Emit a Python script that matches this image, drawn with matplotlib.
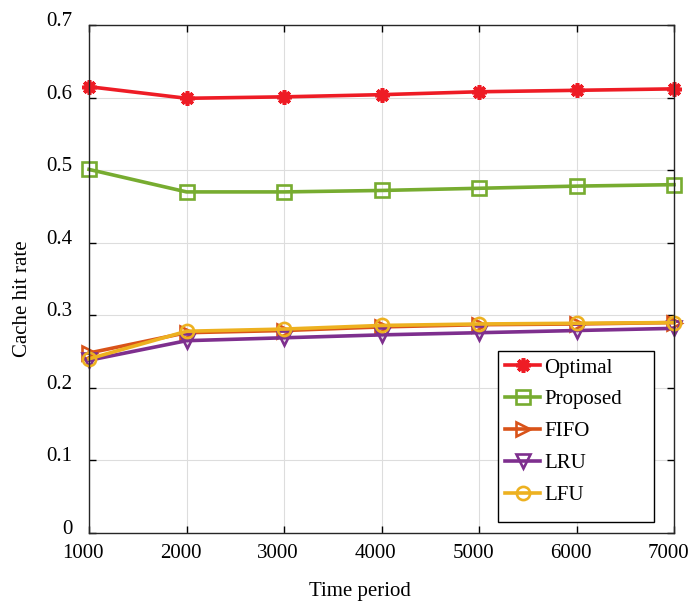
import matplotlib
matplotlib.use("Agg")
import matplotlib.pyplot as plt
from matplotlib.ticker import FuncFormatter
from matplotlib.transforms import ScaledTranslation
from matplotlib.patches import Rectangle

# data
periods = [1000, 2000, 3000, 4000, 5000, 6000, 7000]
optimal = [0.615, 0.599, 0.601, 0.604, 0.608, 0.610, 0.612]
proposed = [0.501, 0.470, 0.470, 0.472, 0.475, 0.478, 0.480]
fifo = [0.248, 0.276, 0.279, 0.284, 0.287, 0.288, 0.290]
lru = [0.238, 0.265, 0.269, 0.273, 0.276, 0.279, 0.282]
lfu = [0.240, 0.278, 0.281, 0.286, 0.288, 0.289, 0.290]
yticks = [0, 0.1, 0.2, 0.3, 0.4, 0.5, 0.6, 0.7]

plt.rcParams['font.family'] = ['Liberation Serif', 'DejaVu Serif']

W, H = 688, 604
fig = plt.figure(figsize=(W / 100, H / 100), dpi=100)
ax = fig.add_axes([89 / W, 1 - 533 / H, 585 / W, 508 / H])

lw = 2.6
ms = 9.5
mew = 1.9
ax.plot(periods, optimal, color='#EE1C25', lw=lw, marker=(8, 2, 0), ms=ms + 1, mew=2.6, label='Optimal')
ax.plot(periods, proposed, color='#77AC30', lw=lw, marker='s', ms=ms, mew=mew, mfc='none', label='Proposed')
ax.plot(periods, fifo, color='#D95319', lw=lw, marker='>', ms=ms, mew=mew, mfc='none', label='FIFO')
ax.plot(periods, lru, color='#7E2F8E', lw=lw, marker='v', ms=ms, mew=mew, mfc='none', label='LRU')
ax.plot(periods, lfu, color='#EDB120', lw=lw, marker='o', ms=ms, mew=mew, mfc='none', label='LFU')
for ln in ax.lines:
    ln.set_clip_on(False)

ax.set_xlim(1000, 7000)
ax.set_ylim(0, 0.7)
ax.set_xticks(periods)
ax.set_yticks(yticks)
ax.yaxis.set_major_formatter(FuncFormatter(lambda v, p: '0' if v == 0 else f'{v:g}'))
ax.tick_params(direction='in', top=True, right=True, labelsize=15, length=5, width=1)
ax.tick_params(axis='x', pad=8)
ax.tick_params(axis='y', pad=12)
ax.grid(True, color='#dddddd', lw=0.8)
ax.set_axisbelow(True)
for s in ax.spines.values():
    s.set_color('#262626')
    s.set_linewidth(1)

# tick labels sit a little off their ticks in the reference
for t in ax.xaxis.get_major_ticks():
    t.label1.set_transform(t.label1.get_transform() + ScaledTranslation(-0.06, 0, fig.dpi_scale_trans))
for t in ax.yaxis.get_major_ticks():
    t.label1.set_transform(t.label1.get_transform() + ScaledTranslation(0, 0.06, fig.dpi_scale_trans))

ax.set_xlabel('Time period', fontsize=15)
ax.xaxis.set_label_coords(0.463, -0.096)
ax.set_ylabel('Cache hit rate', fontsize=15)
ax.yaxis.set_label_coords(-0.097, 0.461)

leg = ax.legend(loc='upper left', bbox_to_anchor=(505 / W, 1 - 358 / H),
                bbox_transform=fig.transFigure, fontsize=15, handlelength=1.68,
                handletextpad=0.2, labelspacing=0.59, borderpad=0, borderaxespad=0,
                frameon=False)
ax.add_patch(Rectangle((498 / W, 1 - 522 / H), 156 / W, 171 / H, transform=fig.transFigure,
                       facecolor='white', edgecolor='black', lw=1, zorder=4.5))
leg.set_zorder(5)

fig.savefig('out.png', dpi=100)
